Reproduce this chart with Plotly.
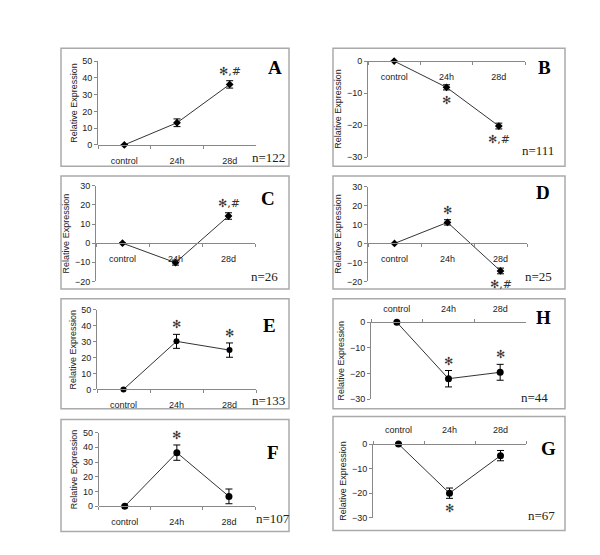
import plotly.graph_objects as go

W, H = 600, 555

categories = ["control", "24h", "28d"]

a_mean = [0, 13.2, 36.1]
a_err = [0, 2.3, 2.2]
b_mean = [0, -8.2, -20.3]
b_err = [0, 0.8, 0.9]
c_mean = [0, -10.2, 14.2]
c_err = [0, 1.3, 1.7]
d_mean = [0, 11.1, -14.5]
d_err = [0, 1.4, 1.5]
e_mean = [0, 30.2, 24.7]
e_err = [0, 4.4, 4.5]
h_mean = [0, -22.0, -19.5]
h_err = [0, 3.2, 3.1]
f_mean = [0, 36.4, 6.7]
f_err = [0, 5.2, 5.0]
g_mean = [0, -20.0, -4.7]
g_err = [0, 2.1, 2.1]

n_labels = {"A": "n=122", "B": "n=111", "C": "n=26", "D": "n=25",
            "E": "n=133", "H": "n=44", "F": "n=107", "G": "n=67"}

# significance marks: (category index, text, direction)
sig = {
    "A": [(2, "✻,#", "up")],
    "B": [(1, "✻", "down"), (2, "✻,#", "down")],
    "C": [(2, "✻,#", "up")],
    "D": [(1, "✻", "up"), (2, "✻,#", "down")],
    "E": [(1, "✻", "up"), (2, "✻", "up")],
    "H": [(1, "✻", "up"), (2, "✻", "up")],
    "F": [(1, "✻", "up")],
    "G": [(1, "✻", "down")],
}

y_ranges = {"A": [0, 50], "B": [-30, 0], "C": [-20, 30], "D": [-20, 30],
            "E": [0, 50], "H": [-30, 0], "F": [0, 50], "G": [-30, 0]}

data = {"A": (a_mean, a_err), "B": (b_mean, b_err), "C": (c_mean, c_err),
        "D": (d_mean, d_err), "E": (e_mean, e_err), "H": (h_mean, h_err),
        "F": (f_mean, f_err), "G": (g_mean, g_err)}

# layout geometry in pixels (plot area x0,x1,y0,y1 ; box x0,x1,y0,y1)
geom = {
    "A": dict(plot=(90, 248, 49, 134.3), box=(53, 281, 36, 156), letter=(266.7, 56), npos=(260, 147), side="bottom", sym="diamond", ms=6),
    "B": dict(plot=(360, 517, 49, 146.7), box=(325, 557, 36, 156), letter=(536.7, 55), npos=(530, 140), side="bottom", sym="diamond", ms=6),
    "C": dict(plot=(88, 247, 176, 273.3), box=(53, 281, 166, 281), letter=(260, 189), npos=(256.7, 268), side="bottom", sym="diamond", ms=6),
    "D": dict(plot=(360, 519, 176.7, 273.3), box=(325, 557, 166, 281), letter=(535, 183), npos=(530, 268), side="bottom", sym="diamond", ms=6),
    "E": dict(plot=(89, 248, 302.3, 383.3), box=(53, 281, 291, 403), letter=(261.7, 318), npos=(260, 395), side="bottom", sym="circle", ms=6),
    "H": dict(plot=(363, 518, 315, 393.3), box=(325, 557, 291, 403), letter=(535, 310), npos=(526.7, 391.7), side="top", sym="circle", ms=7),
    "F": dict(plot=(90.7, 247, 427.3, 502.3), box=(53, 281, 414, 528), letter=(265, 448), npos=(265, 515), side="bottom", sym="circle", ms=7),
    "G": dict(plot=(365, 518, 439, 514), box=(325, 557, 411, 527), letter=(540, 443), npos=(533, 512), side="top", sym="circle", ms=7),
}

order = ["A", "B", "C", "D", "E", "H", "F", "G"]

def px(x):
    return x / W

def py(y):
    return 1 - y / H

fig = go.Figure()
layout = dict(width=W, height=H, margin=dict(l=0, r=0, t=0, b=0),
              paper_bgcolor="white", plot_bgcolor="rgba(0,0,0,0)",
              showlegend=False, font=dict(family="Liberation Sans", size=9, color="#222"))
shapes = []
annotations = []

tick_font = dict(family="Liberation Sans", size=9, color="#222")

for i, key in enumerate(order, start=1):
    g = geom[key]
    mean, err = data[key]
    ymin, ymax = y_ranges[key]
    x0, x1, y0, y1 = g["plot"]
    xa = "xaxis" if i == 1 else f"xaxis{i}"
    ya = "yaxis" if i == 1 else f"yaxis{i}"
    xr = "x" if i == 1 else f"x{i}"
    yr = "y" if i == 1 else f"y{i}"

    fig.add_trace(go.Scatter(
        x=categories, y=mean, xaxis=xr, yaxis=yr, mode="lines+markers",
        line=dict(color="#333", width=1),
        marker=dict(symbol=g["sym"], size=g["ms"], color="black"),
        error_y=dict(type="data", array=err, visible=True, thickness=1, width=3.5, color="black"),
        cliponaxis=False,
    ))

    # zero-line position for the category axis
    zero_px = y0 + (ymax - 0) / (ymax - ymin) * (y1 - y0)
    layout[xa] = dict(
        domain=[px(x0), px(x1)], anchor="free", position=py(zero_px),
        side=g["side"], type="category", range=[-0.5, 2.5],
        showline=True, linecolor="#888", linewidth=1,
        ticks="outside", ticklen=3, tickcolor="#888", tickson="boundaries",
        ticklabelstandoff=7,
        showgrid=False, zeroline=False, tickfont=tick_font, fixedrange=True,
    )
    layout[ya] = dict(
        domain=[py(y1), py(y0)], anchor=xr, range=[ymin, ymax], dtick=10,
        showline=True, linecolor="#888", linewidth=1,
        ticks="outside", ticklen=3, tickcolor="#888",
        showgrid=False, zeroline=False, tickfont=tick_font,
        title=dict(text="Relative Expression", font=dict(family="Liberation Sans", size=9, color="#222"), standoff=3),
        fixedrange=True,
    )

    bx0, bx1, by0, by1 = g["box"]
    shapes.append(dict(type="rect", xref="paper", yref="paper",
                       x0=px(bx0), x1=px(bx1), y0=py(by1), y1=py(by0),
                       line=dict(color="#aaa", width=1.5), fillcolor="rgba(0,0,0,0)"))

    lx, ly = g["letter"]
    annotations.append(dict(text=f"<b>{key}</b>", xref="paper", yref="paper",
                            x=px(lx), y=py(ly), showarrow=False, xanchor="center", yanchor="middle",
                            font=dict(family="Liberation Serif", size=19, color="black")))
    nx, ny = g["npos"]
    annotations.append(dict(text=n_labels[key], xref="paper", yref="paper",
                            x=px(nx), y=py(ny), showarrow=False, xanchor="center", yanchor="middle",
                            font=dict(family="Liberation Serif", size=13, color="#222")))

    for idx, txt, direction in sig[key]:
        if direction == "up":
            yv = mean[idx] + err[idx]
            annotations.append(dict(text=txt, x=categories[idx], y=yv, xref=xr, yref=yr,
                                    showarrow=False, yanchor="bottom", yshift=1,
                                    font=dict(family="DejaVu Sans", size=11, color="#333")))
        else:
            yv = mean[idx] - err[idx]
            annotations.append(dict(text=txt, x=categories[idx], y=yv, xref=xr, yref=yr,
                                    showarrow=False, yanchor="top", yshift=-2,
                                    font=dict(family="DejaVu Sans", size=11, color="#333")))

layout["shapes"] = shapes
layout["annotations"] = annotations
fig.update_layout(**layout)
fig.write_html("out.html")
